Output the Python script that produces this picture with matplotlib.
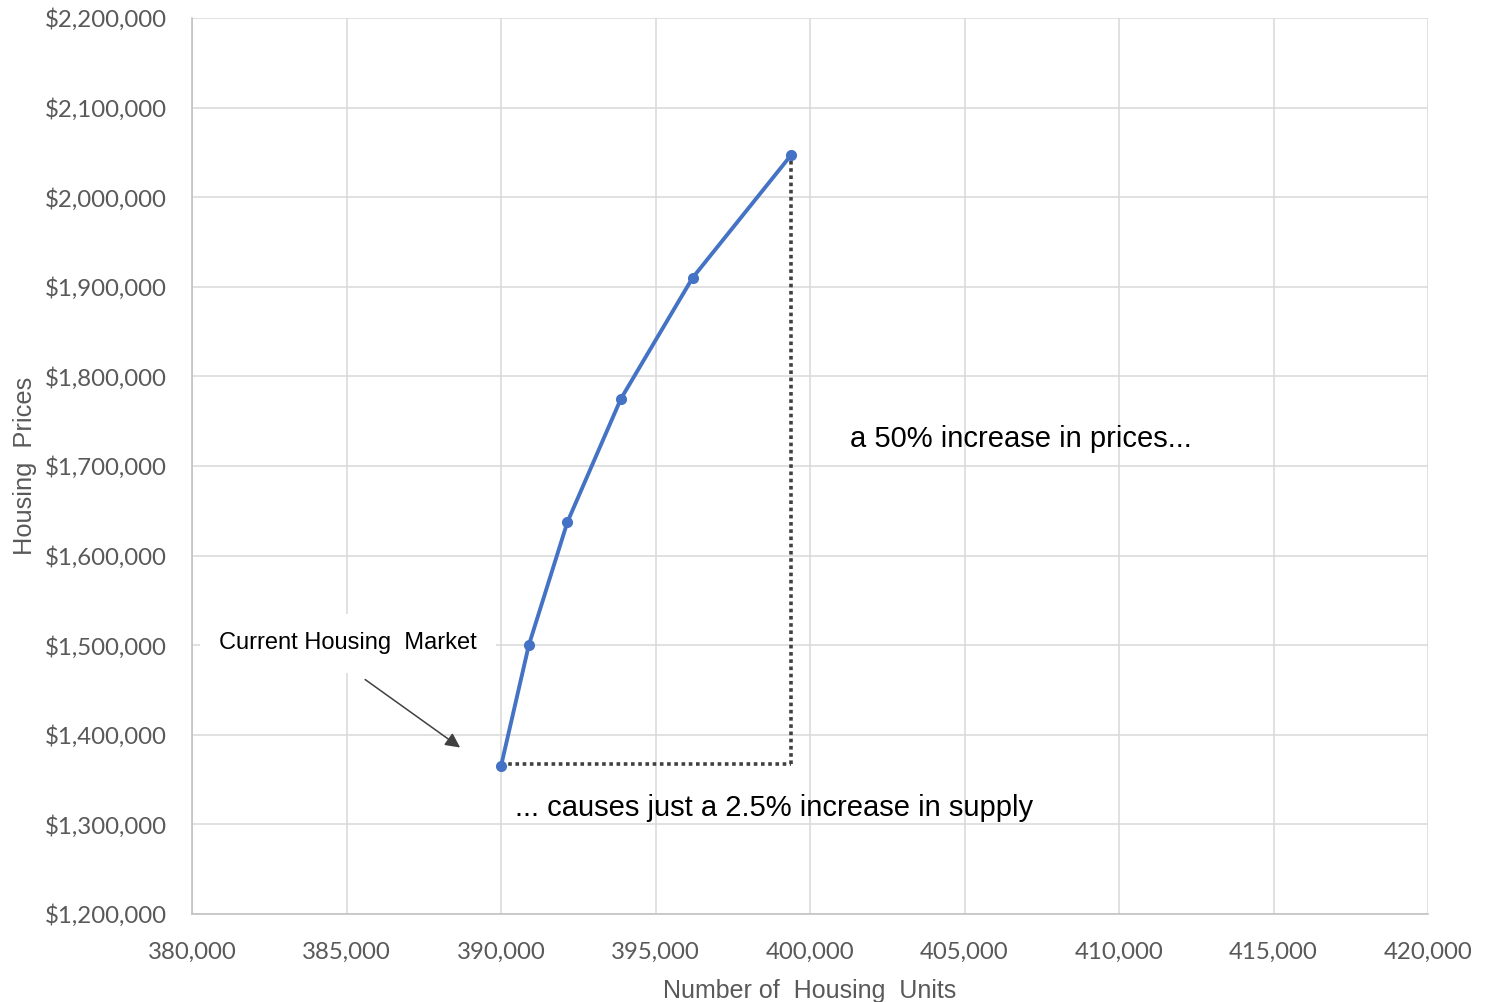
import matplotlib
matplotlib.use("Agg")
import matplotlib.pyplot as plt
from matplotlib.ticker import FuncFormatter

units = [390000, 390900, 392150, 393880, 396200, 399400]
prices = [1365000, 1500000, 1637500, 1775000, 1910000, 2047500]
x_ticks = list(range(380000, 420001, 5000))
y_ticks = list(range(1200000, 2200001, 100000))

fig = plt.figure(figsize=(14.88, 10.02), dpi=100)
ax = fig.add_axes([192/1488, 1-914/1002, (1428-192)/1488, (914-18)/1002])

ax.set_xlim(380000, 420000)
ax.set_ylim(1200000, 2200000)
ax.set_xticks(x_ticks)
ax.set_yticks(y_ticks)
ax.xaxis.set_major_formatter(FuncFormatter(lambda v, p: f"{int(v):,}"))
ax.yaxis.set_major_formatter(FuncFormatter(lambda v, p: f"${int(v):,}"))
ax.grid(True, color="#D9D9D9", linewidth=1.1)
ax.set_axisbelow(True)
for s in ["top", "right"]:
    ax.spines[s].set_visible(False)
for s in ["left", "bottom"]:
    ax.spines[s].set_color("#BFBFBF")
    ax.spines[s].set_linewidth(1.1)
ax.tick_params(length=0, labelsize=17.3, labelcolor="#595959")
ax.tick_params(axis="y", pad=18)
ax.tick_params(axis="x", pad=20)
for lab in ax.get_xticklabels() + ax.get_yticklabels():
    lab.set_family("Lato")

ax.set_xlabel("Number of  Housing  Units", fontsize=18, color="#595959",
              family="Liberation Sans")
ax.set_ylabel("Housing  Prices", fontsize=18.3, color="#595959",
              family="Liberation Sans")
ax.yaxis.set_label_coords(-0.125, 0.5)
ax.xaxis.set_label_coords(0.5, -0.073)

# dotted guide lines
ax.plot([units[0], units[-1]], [prices[0] + 2500, prices[0] + 2500],
        color="#404040", linewidth=2.6, linestyle=(0, (1, 1)), zorder=2)
ax.plot([units[-1] - 30, units[-1] - 30], [prices[0] + 2500, prices[-1]],
        color="#404040", linewidth=2.6, linestyle=(0, (1, 1)), zorder=2)

ax.plot(units, prices, color="#4472C4", linewidth=2.8, marker="o",
        markersize=7, zorder=3)

ax.text(401300, 1730000, "a 50% increase in prices...", fontsize=21,
        family="Liberation Sans", color="black", va="center")
ax.text(390450, 1318000, "... causes just a 2.5% increase in supply", fontsize=21,
        family="Liberation Sans", color="black", va="center")

ax.text(385050, 1502000, "Current Housing  Market", fontsize=17,
        family="Liberation Sans", color="black", va="center", ha="center",
        bbox=dict(facecolor="white", edgecolor="none", boxstyle="square,pad=0.8"),
        zorder=4)
ax.annotate("", xy=(388750, 1384000), xytext=(385530, 1463500),
            arrowprops=dict(arrowstyle="-|>", color="#404040", lw=1.1,
                            mutation_scale=22), zorder=4)

fig.savefig("out.png", dpi=100, facecolor="white")
